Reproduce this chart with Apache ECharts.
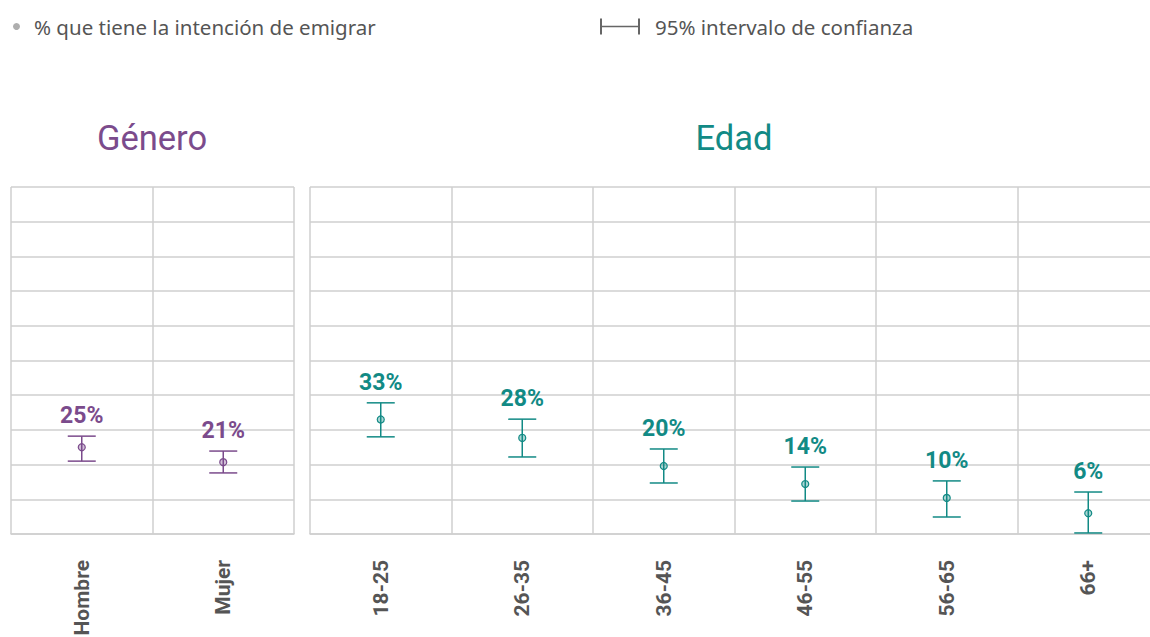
<!DOCTYPE html>
<html>
<head>
<meta charset="utf-8">
<script src="https://cdn.jsdelivr.net/npm/echarts@6/dist/echarts.min.js"></script>
<style>
  html, body { margin: 0; padding: 0; background: #fff; }
  #chart { width: 1150px; height: 637px; }
</style>
</head>
<body>
<div id="chart"></div>
<script>
// Género
const generoCats = ['Hombre', 'Mujer'];
const generoMean = [25, 20.7];
const generoLow = [21, 17.6];
const generoHigh = [28.2, 23.9];

// Edad
const edadCats = ['18-25', '26-35', '36-45', '46-55', '56-65', '66+'];
const edadMean = [33, 27.7, 19.6, 14.4, 10.4, 6];
const edadLow = [28, 22.2, 14.7, 9.5, 4.9, 0.3];
const edadHigh = [37.8, 33.1, 24.5, 19.3, 15.3, 12.1];

const PURPLE = '#7b4b8c';
const TEAL = '#128a85';
const GRID_LINE = '#cfcfcf';
const POINT_NAME = '% que tiene la intención de emigrar';
const CI_NAME = '95% intervalo de confianza';

const chart = echarts.init(document.getElementById('chart'), null, { renderer: 'svg' });

const rows = (means, lows, highs) => means.map((m, i) => [i, m, lows[i], highs[i]]);

const errorBar = (color) => (params, api) => {
  const idx = api.value(0);
  const top = api.coord([idx, api.value(3)]);
  const bot = api.coord([idx, api.value(2)]);
  const mid = api.coord([idx, api.value(1)]);
  const half = 14;
  const line = { stroke: color, lineWidth: 1.5 };
  return {
    type: 'group',
    children: [
      { type: 'line', shape: { x1: top[0], y1: top[1], x2: bot[0], y2: bot[1] }, style: line },
      { type: 'line', shape: { x1: top[0] - half, y1: top[1], x2: top[0] + half, y2: top[1] }, style: line },
      { type: 'line', shape: { x1: bot[0] - half, y1: bot[1], x2: bot[0] + half, y2: bot[1] }, style: line },
      { type: 'circle', shape: { cx: mid[0], cy: mid[1], r: 3.5 },
        style: { fill: echarts.color.modifyAlpha(color, 0.35), stroke: color, lineWidth: 1.2 } },
      { type: 'text', x: top[0], y: top[1] - 9,
        style: {
          text: Math.round(api.value(1)) + '%',
          fill: color, font: 'bold 23px Roboto',
          align: 'center', verticalAlign: 'bottom'
        } }
    ]
  };
};

const xAxisBase = (gridIndex, data) => ({
  type: 'category',
  gridIndex,
  data,
  boundaryGap: true,
  axisLine: { show: true, lineStyle: { color: GRID_LINE, width: 1.5 } },
  axisTick: { show: false },
  splitLine: { show: true, lineStyle: { color: GRID_LINE, width: 1.5 } },
  axisLabel: {
    rotate: 90,
    margin: 26,
    color: '#555',
    fontFamily: 'Roboto',
    fontWeight: 'bold',
    fontSize: 21
  }
});

const yAxisBase = (gridIndex) => ({
  type: 'value',
  gridIndex,
  min: 0,
  max: 100,
  interval: 10,
  axisLine: { show: false },
  axisTick: { show: false },
  axisLabel: { show: false },
  splitLine: { show: true, lineStyle: { color: GRID_LINE, width: 1.5 } }
});

const option = {
  animation: false,
  backgroundColor: '#fff',
  legend: [
    {
      left: 8,
      top: 11,
      icon: 'circle',
      itemWidth: 7,
      itemHeight: 7,
      selectedMode: false,
      data: [{ name: POINT_NAME, itemStyle: { color: '#9a9a9a' } }],
      textStyle: { color: '#555', fontSize: 20.5, fontFamily: 'Noto Sans', padding: [0, 0, 0, 9] }
    },
    {
      left: 595,
      top: 11,
      icon: 'path://M0,0h2v16h-2z M2,7.3h36v1.4h-36z M38,0h2v16h-2z',
      itemWidth: 40,
      itemHeight: 16,
      selectedMode: false,
      data: [{ name: CI_NAME, itemStyle: { color: '#666' } }],
      textStyle: { color: '#555', fontSize: 20.5, fontFamily: 'Noto Sans', padding: [0, 0, 0, 10] }
    }
  ],
  title: [
    {
      text: 'Género',
      left: 147,
      top: 115,
      textAlign: 'center',
      textStyle: { color: PURPLE, fontSize: 34.5, fontWeight: 'normal', fontFamily: 'Roboto' }
    },
    {
      text: 'Edad',
      left: 729,
      top: 115,
      textAlign: 'center',
      textStyle: { color: TEAL, fontSize: 34.5, fontWeight: 'normal', fontFamily: 'Roboto' }
    }
  ],
  grid: [
    { left: 11, top: 187, width: 283, height: 347, outerBoundsMode: 'none' },
    { left: 310, top: 187, width: 849, height: 347, outerBoundsMode: 'none' }
  ],
  xAxis: [xAxisBase(0, generoCats), xAxisBase(1, edadCats)],
  yAxis: [yAxisBase(0), yAxisBase(1)],
  series: [
    {
      name: CI_NAME,
      type: 'custom',
      xAxisIndex: 0,
      yAxisIndex: 0,
      renderItem: errorBar(PURPLE),
      encode: { x: 0, y: [1, 2, 3] },
      data: rows(generoMean, generoLow, generoHigh),
      z: 10
    },
    {
      name: CI_NAME,
      type: 'custom',
      xAxisIndex: 1,
      yAxisIndex: 1,
      renderItem: errorBar(TEAL),
      encode: { x: 0, y: [1, 2, 3] },
      data: rows(edadMean, edadLow, edadHigh),
      z: 10
    },
    {
      name: POINT_NAME,
      type: 'scatter',
      xAxisIndex: 0,
      yAxisIndex: 0,
      symbolSize: 0,
      silent: true,
      data: generoMean
    }
  ]
};

chart.setOption(option);
</script>
</body>
</html>
